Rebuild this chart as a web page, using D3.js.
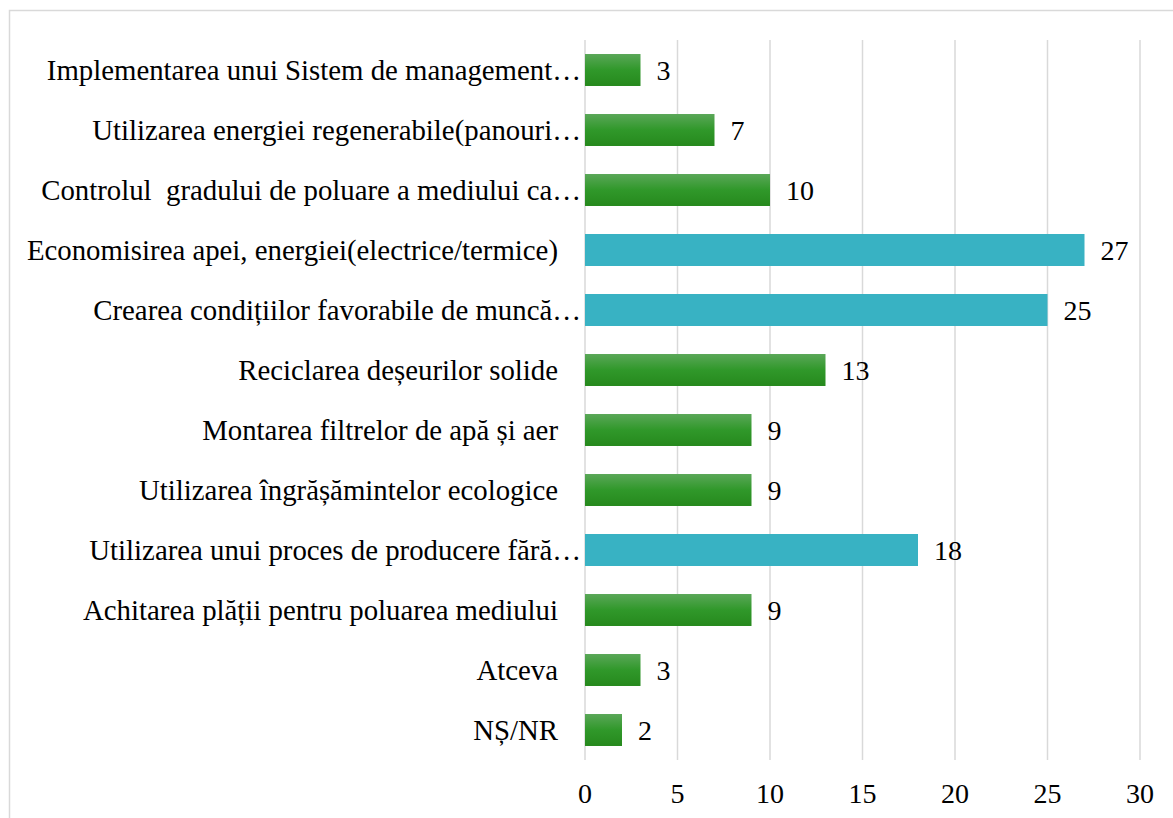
<!DOCTYPE html>
<html>
<head>
<meta charset="utf-8">
<script src="https://cdn.jsdelivr.net/npm/d3@7"></script>
<style>
  body { margin: 0; background: #fff; }
  text { font-family: "Liberation Serif", "DejaVu Serif", serif; fill: #000; }
</style>
</head>
<body>
<svg id="chart" width="1173" height="818"></svg>
<script>
const categories = [
  "Implementarea unui Sistem de management…",
  "Utilizarea energiei regenerabile(panouri…",
  "Controlul  gradului de poluare a mediului ca…",
  "Economisirea apei, energiei(electrice/termice)",
  "Crearea condițiilor favorabile de muncă…",
  "Reciclarea deșeurilor solide",
  "Montarea filtrelor de apă și aer",
  "Utilizarea îngrășămintelor ecologice",
  "Utilizarea unui proces de producere fără…",
  "Achitarea plății pentru poluarea mediului",
  "Atceva",
  "NȘ/NR"
];
const values = [3, 7, 10, 27, 25, 13, 9, 9, 18, 9, 3, 2];
const highlighted = [false, false, false, true, true, false, false, false, true, false, false, false];
const ticks = [0, 5, 10, 15, 20, 25, 30];

const svg = d3.select("#chart");
const labelSize = 28.8;
const numSize = 28;

// outer frame of the chart area
svg.append("rect")
  .attr("x", 9.5).attr("y", 10.5)
  .attr("width", 1300).attr("height", 900)
  .attr("fill", "none").attr("stroke", "#d9d9d9").attr("stroke-width", 1.5);

const defs = svg.append("defs");
const grad = defs.append("linearGradient")
  .attr("id", "greenGrad")
  .attr("x1", 0).attr("y1", 0).attr("x2", 0).attr("y2", 1);
grad.append("stop").attr("offset", "0%").attr("stop-color", "#5aa758");
grad.append("stop").attr("offset", "50%").attr("stop-color", "#30982a");
grad.append("stop").attr("offset", "100%").attr("stop-color", "#26891d");

const x = d3.scaleLinear().domain([0, 30]).range([585, 1140]);
const y = d3.scaleBand().domain(categories).range([40, 760])
  .paddingInner(0.467).paddingOuter(0.2335);

// gridlines
svg.append("g").selectAll("line")
  .data(ticks)
  .join("line")
  .attr("x1", d => x(d)).attr("x2", d => x(d))
  .attr("y1", 40).attr("y2", 760)
  .attr("stroke", "#d9d9d9").attr("stroke-width", 1.5);

// bars
svg.append("g").selectAll("rect")
  .data(categories)
  .join("rect")
  .attr("x", x(0))
  .attr("y", d => y(d))
  .attr("width", (d, i) => x(values[i]) - x(0))
  .attr("height", y.bandwidth())
  .attr("fill", (d, i) => highlighted[i] ? "#38b2c3" : "url(#greenGrad)");

// value labels
svg.append("g").selectAll("text")
  .data(categories)
  .join("text")
  .attr("x", (d, i) => x(values[i]) + 16)
  .attr("y", d => y(d) + y.bandwidth() / 2)
  .attr("dy", "0.35em")
  .style("font-size", numSize + "px")
  .text((d, i) => values[i]);

// category labels
svg.append("g").selectAll("text")
  .data(categories)
  .join("text")
  .attr("x", d => d.endsWith("…") ? 581 : 558)
  .attr("y", d => y(d) + y.bandwidth() / 2)
  .attr("dy", "0.35em")
  .attr("text-anchor", "end")
  .style("font-size", labelSize + "px")
  .style("white-space", "pre")
  .text(d => d);

// x axis tick labels
svg.append("g").selectAll("text")
  .data(ticks)
  .join("text")
  .attr("x", d => x(d))
  .attr("y", 793)
  .attr("dy", "0.35em")
  .attr("text-anchor", "middle")
  .style("font-size", numSize + "px")
  .text(d => d);
</script>
</body>
</html>
